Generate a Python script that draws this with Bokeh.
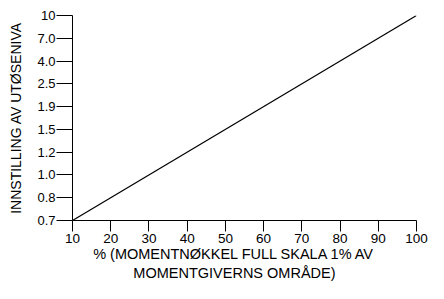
from bokeh.plotting import figure
from bokeh.models import Range1d, FixedTicker
from bokeh.embed import file_html
from bokeh.resources import INLINE

# --- data ---
y_labels = ["0.7", "0.8", "1.0", "1.2", "1.5", "1.9", "2.5", "4.0", "7.0", "10"]
x_ticks = [10, 20, 30, 40, 50, 60, 70, 80, 90, 100]
line_x = [10, 100]
line_y_vals = ["0.7", "10"]
x_title_lines = ["% (MOMENTNØKKEL FULL SKALA 1% AV", "MOMENTGIVERNS OMRÅDE)"]
y_title = "INNSTILLING AV UTØSENIVA"

y_pos = list(range(len(y_labels)))
line_y = [y_labels.index(v) for v in line_y_vals]

FONT = "Liberation Sans"

W, H = 428, 283
LEFT, RIGHT, TOP, BOTTOM = 72, 12, 15, 63

p = figure(width=W, height=H, output_backend="svg", toolbar_location=None,
           x_range=Range1d(10, 100), y_range=Range1d(0, len(y_labels) - 1),
           min_border_left=LEFT, min_border_right=RIGHT, min_border_top=TOP,
           min_border_bottom=BOTTOM)

p.line(line_x, line_y, line_color="black", line_width=1.2)

p.grid.visible = False
p.outline_line_color = None
p.background_fill_color = "white"
p.border_fill_color = "white"

xa = p.xaxis[0]
xa.ticker = FixedTicker(ticks=x_ticks)
xa.major_tick_in = 0
xa.major_tick_out = 11
xa.minor_tick_out = 0
xa.minor_tick_in = 0
xa.axis_line_color = "black"
xa.major_tick_line_color = "black"
xa.major_label_text_font = FONT
xa.major_label_text_font_size = "13.5px"
xa.major_label_text_color = "black"
xa.major_label_standoff = 2
pad = "\u00a0" * 5  # shifts the centred title slightly left, as in the reference
xa.axis_label = "\n".join(t + pad for t in x_title_lines)
xa.axis_label_text_font = FONT
xa.axis_label_text_font_size = "14.5px"
xa.axis_label_text_font_style = "normal"
xa.axis_label_text_color = "black"
xa.axis_label_standoff = 0

ya = p.yaxis[0]
ya.ticker = FixedTicker(ticks=y_pos)
ya.major_label_overrides = {i: s for i, s in enumerate(y_labels)}
ya.major_tick_in = 0
ya.major_tick_out = 16
ya.minor_tick_out = 0
ya.minor_tick_in = 0
ya.axis_line_color = "black"
ya.major_tick_line_color = "black"
ya.major_label_text_font = FONT
ya.major_label_text_font_size = "13px"
ya.major_label_text_color = "black"
ya.major_label_standoff = 1
ya.axis_label = y_title
ya.axis_label_text_font = FONT
ya.axis_label_text_font_size = "14px"
ya.axis_label_text_font_style = "normal"
ya.axis_label_text_color = "black"
ya.axis_label_standoff = 10

open("out.html", "w").write(file_html(p, INLINE))
